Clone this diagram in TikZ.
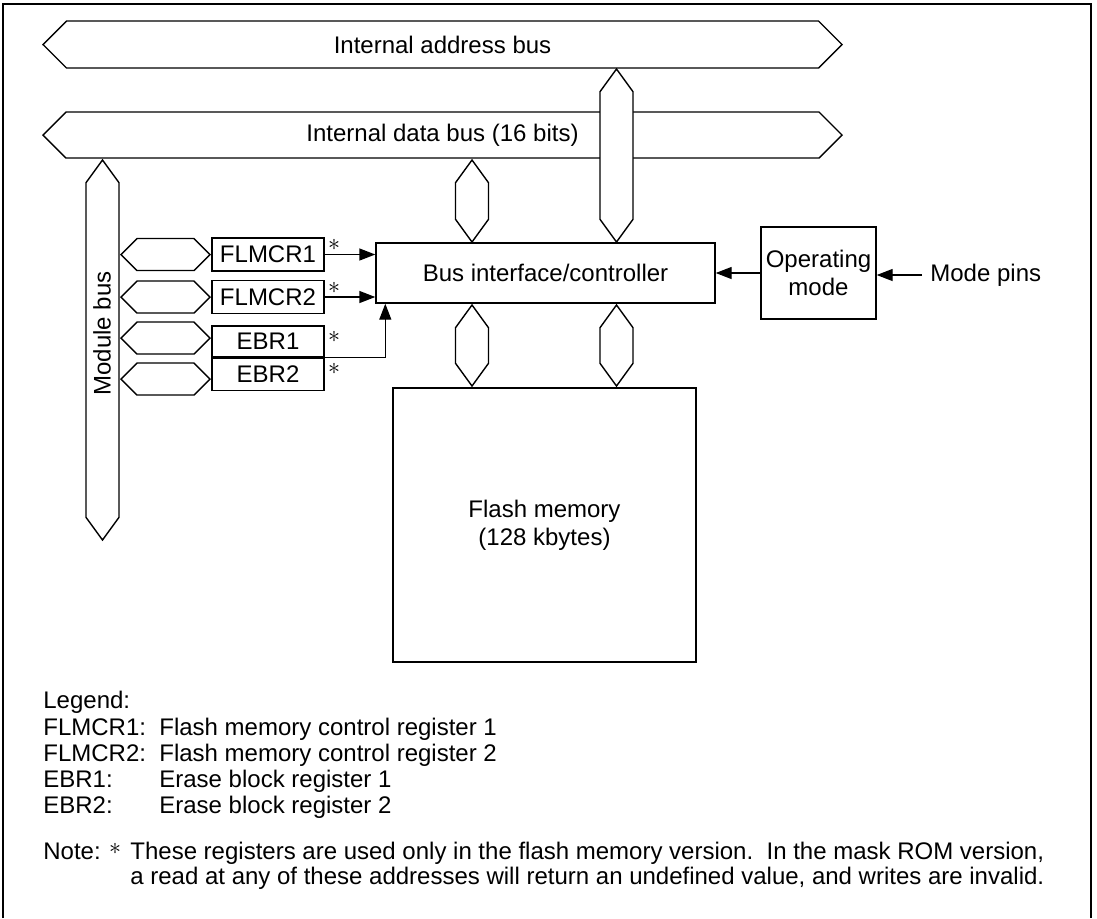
\documentclass[tikz,border=0pt]{standalone}
\usepackage{fontspec}
\setmainfont{Liberation Sans}
\usetikzlibrary{positioning, arrows.meta, shapes.symbols, calc}

\begin{document}
\begin{tikzpicture}[x=0.5pt,y=-0.5pt,>={Triangle[length=8pt,width=6pt]},
  every node/.style={font=\fontsize{12}{14}\selectfont, inner sep=0pt},
  box/.style={draw,line width=0.7pt,fill=white,align=center},
  reg/.style={box,minimum width=56pt,minimum height=16.5pt},
  hbus/.style={draw,fill=white,line width=0.7pt,shape=signal,
               signal to=east and west,signal pointer angle=90},
  vbus/.style={draw,fill=white,line width=0.7pt,shape=signal,
               signal to=north and south,signal pointer angle=72,
               minimum width=16.5pt},
  astx/.style={font=\fontsize{12}{12}\selectfont},
  txt/.style={anchor=base west},
  conn/.style={->,line width=0.7pt}]
  \useasboundingbox (0,0) rectangle (1097,918);
  \draw[line width=0.8pt] (3,918) -- (3,4) -- (1091,4) -- (1091,918);

  \node[hbus,minimum width=399.5pt,minimum height=23.5pt] (abus) at (442.5,44.5) {Internal address bus};
  \node[hbus,minimum width=399.5pt,minimum height=23pt] (dbus) at (442.5,135) {Internal data bus (16 bits)};
  \node[vbus,minimum height=63.8pt] (tall) at (616.5,155.5) {};
  \node[vbus,minimum height=18.3pt] (short) at (472,201) {};
  \node[vbus,minimum height=167.3pt] (mbus) at (102.5,350) {};
  \node[rotate=90] (mlab) at (102,333.5) {Module bus};

  \node[box,minimum width=169.5pt,minimum height=30pt] (bus) at (545.5,273) {Bus interface/controller};
  \node[box,minimum width=151.5pt,minimum height=137pt] (flash) at (544.5,525) {Flash memory\\(128 kbytes)};
  \node[vbus,minimum height=17.8pt] (lo1) at (472,345.5) {};
  \node[vbus,minimum height=17.8pt] (lo2) at (616.5,345.5) {};
  \node[box,minimum width=57.5pt,minimum height=46pt] (op) at (818.5,273) {Operating\\mode};
  \node[anchor=west,inner xsep=4pt] (pins) at (922,275) {Mode pins};

  \node[reg] (f1) at (268,254.5) {FLMCR1};
  \node[reg] (f2) at (268,297) {FLMCR2};
  \node[reg,minimum height=15.5pt] (e1) at (268,341.5) {EBR1};
  \node[reg,minimum height=16pt,below=0pt of e1] (e2) {EBR2};
  \node[hbus,minimum width=44.5pt,minimum height=16pt] (h1) at (165.5,254.5) {};
  \node[hbus,minimum width=44.5pt,minimum height=16pt] (h2) at (165.5,297) {};
  \node[hbus,minimum width=44.5pt,minimum height=16pt] (h3) at (165.5,338) {};
  \node[hbus,minimum width=44.5pt,minimum height=16pt] (h4) at (165.5,379) {};
  \node[astx] (s1) at (334,245) {$\ast$};
  \node[astx] (s2) at (334,288) {$\ast$};
  \node[astx] (s3) at (334,337) {$\ast$};
  \node[astx] (s4) at (334,369) {$\ast$};

  \draw[conn] (f1.east) -- (f1.east -| bus.west);
  \draw[conn] (f2.east) -- (f2.east -| bus.west);
  \draw[conn] (e1.south east) -| ([xshift=5pt]bus.south west);
  \draw[conn] (op.west |- bus.east) -- (bus.east);
  \draw[conn] (pins.west) -- (pins.west -| op.east);

  \node[txt] (lg) at (43,708.5) {Legend:};
  \node[txt] (k1) at (43,735.5) {FLMCR1:};
  \node[txt] (d1) at (159,735.5) {Flash memory control register 1};
  \node[txt] (k2) at (43,761.5) {FLMCR2:};
  \node[txt] (d2) at (159,761.5) {Flash memory control register 2};
  \node[txt] (k3) at (43,787.5) {EBR1:};
  \node[txt] (d3) at (159,787.5) {Erase block register 1};
  \node[txt] (k4) at (43,813.5) {EBR2:};
  \node[txt] (d4) at (159,813.5) {Erase block register 2};
  \node[txt] (nt) at (43,859.5) {Note:};
  \node[astx] (ns) at (115,849) {$\ast$};
  \node[txt] (n1) at (130,859.5) {These registers are used only in the flash memory version.\ \ In the mask ROM version,};
  \node[txt] (n2) at (130,884.5) {a read at any of these addresses will return an undefined value, and writes are invalid.};
\end{tikzpicture}
\end{document}
